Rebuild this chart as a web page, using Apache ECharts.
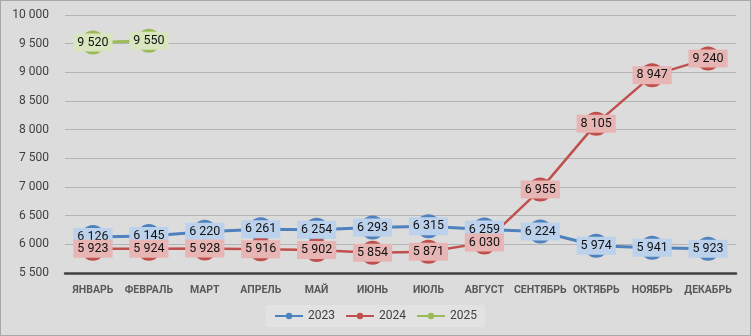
<!DOCTYPE html>
<html>
<head>
<meta charset="utf-8">
<script src="https://cdn.jsdelivr.net/npm/echarts@6/dist/echarts.min.js"></script>
<style>
  html, body { margin: 0; padding: 0; background: #dcdcdc; }
  #chart { width: 751px; height: 336px; box-sizing: border-box; border: 1px solid #a8a8a8; }
</style>
</head>
<body>
<div id="chart"></div>
<script>
// Monthly values by year
const months = ['ЯНВАРЬ', 'ФЕВРАЛЬ', 'МАРТ', 'АПРЕЛЬ', 'МАЙ', 'ИЮНЬ', 'ИЮЛЬ', 'АВГУСТ', 'СЕНТЯБРЬ', 'ОКТЯБРЬ', 'НОЯБРЬ', 'ДЕКАБРЬ'];
const values2023 = [6126, 6145, 6220, 6261, 6254, 6293, 6315, 6259, 6224, 5974, 5941, 5923];
const values2024 = [5923, 5924, 5928, 5916, 5902, 5854, 5871, 6030, 6955, 8105, 8947, 9240];
const values2025 = [9520, 9550];
const seriesNames = ['2023', '2024', '2025'];

const fmt = v => String(v).replace(/\B(?=(\d{3})+(?!\d))/g, ' ');
const font = 'Roboto, "Liberation Sans", Arial, sans-serif';

function lineSeries(name, data, color, labelBg, width) {
  return {
    name: name,
    type: 'line',
    data: data,
    symbol: 'circle',
    symbolSize: 24,
    lineStyle: { color: color, width: width },
    itemStyle: { color: color },
    label: {
      show: true,
      position: 'inside',
      formatter: p => fmt(p.value),
      color: '#111',
      fontFamily: font,
      fontSize: 12.5,
      backgroundColor: labelBg,
      padding: [3, 4, 2, 4]
    },
    emphasis: { disabled: true },
    animation: false
  };
}

const chart = echarts.init(document.getElementById('chart'), null, { renderer: 'canvas' });
chart.setOption({
  backgroundColor: '#dcdcdc',
  textStyle: { fontFamily: font },
  grid: { left: 64, right: 14, top: 14, bottom: 62, containLabel: false },
  legend: {
    bottom: 8,
    left: 'center',
    data: seriesNames,
    backgroundColor: '#e2e2e2',
    padding: [5, 8],
    itemGap: 10,
    itemWidth: 28,
    itemHeight: 8,
    textStyle: { color: '#404040', fontSize: 12, fontFamily: font }
  },
  xAxis: {
    type: 'category',
    data: months,
    boundaryGap: true,
    axisLine: { lineStyle: { color: '#404040', width: 2.5 } },
    axisTick: { show: false },
    axisLabel: { interval: 0, color: '#595959', fontWeight: 'bold', fontSize: 10.5, margin: 12, fontFamily: font }
  },
  yAxis: {
    type: 'value',
    min: 5500,
    max: 10000,
    interval: 500,
    axisLine: { show: false },
    axisTick: { show: false },
    axisLabel: { color: '#404040', fontSize: 12, margin: 16, formatter: v => fmt(v), fontFamily: font },
    splitLine: { lineStyle: { color: '#b4b4b4', width: 1 } }
  },
  series: [
    lineSeries(seriesNames[0], values2023, '#4f81bd', '#bcd2ec', 3),
    lineSeries(seriesNames[1], values2024, '#c0504d', '#e8b5b5', 2.5),
    lineSeries(seriesNames[2], values2025, '#9bbb59', '#d8e5be', 3)
  ]
});
</script>
</body>
</html>
